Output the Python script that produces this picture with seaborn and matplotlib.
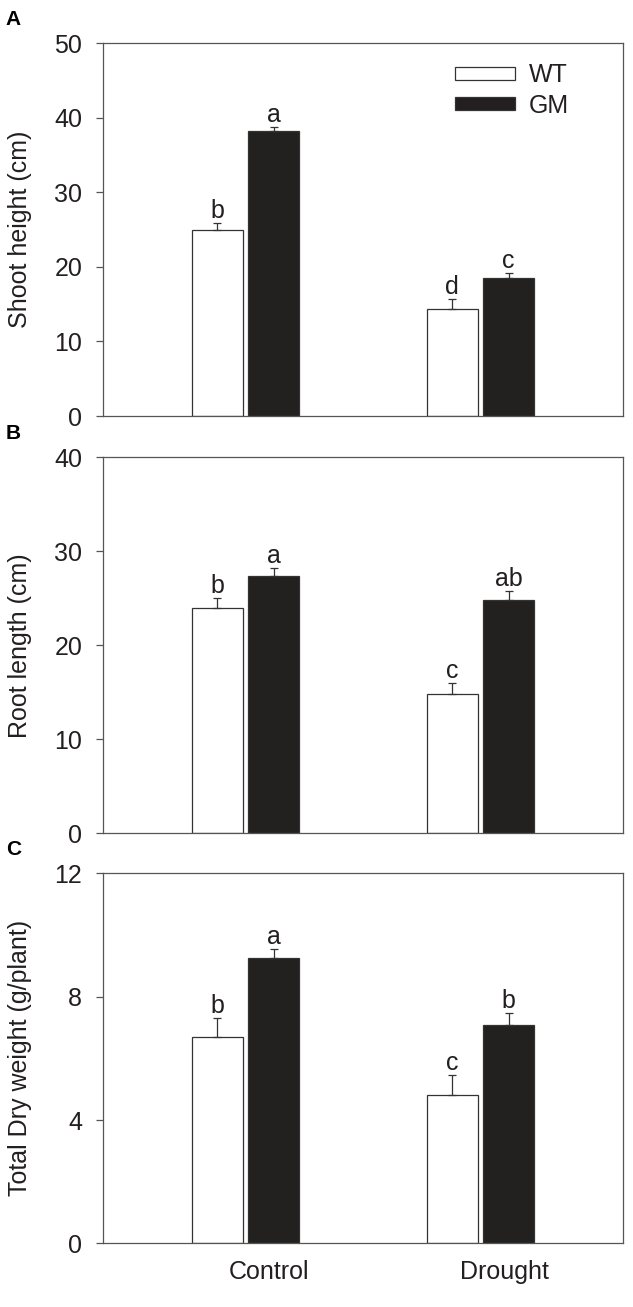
import seaborn as sns
import pandas as pd
import matplotlib.pyplot as plt
from matplotlib.patches import Patch
from matplotlib.transforms import ScaledTranslation

conditions = ["Control", "Drought"]
genotypes = ["WT", "GM"]

# values per genotype: [Control, Drought]
shoot_wt = [24.9, 14.4]
shoot_gm = [38.2, 18.5]
shoot_wt_se = [1.0, 1.3]
shoot_gm_se = [0.6, 0.7]
shoot_letters_wt = ["b", "d"]
shoot_letters_gm = ["a", "c"]

root_wt = [24.0, 14.8]
root_gm = [27.4, 24.8]
root_wt_se = [1.0, 1.2]
root_gm_se = [0.8, 1.0]
root_letters_wt = ["b", "c"]
root_letters_gm = ["a", "ab"]

dry_wt = [6.70, 4.81]
dry_gm = [9.24, 7.08]
dry_wt_se = [0.60, 0.64]
dry_gm_se = [0.31, 0.40]
dry_letters_wt = ["b", "c"]
dry_letters_gm = ["a", "b"]

sns.set_style("white")
plt.rcParams['font.family'] = ['Liberation Sans', 'DejaVu Sans']

fig = plt.figure(figsize=(6.33, 13.07), dpi=100)
ax_a = fig.add_axes([0.1627, 0.6817, 0.8215, 0.2854])
ax_b = fig.add_axes([0.1627, 0.3624, 0.8215, 0.2877])
ax_c = fig.add_axes([0.1627, 0.0487, 0.8215, 0.2831])

colors = {"WT": "white", "GM": "#231f20"}
spine_col = "#555555"
text_col = "#231f20"
FS = 18


def panel(ax, wt, gm, wt_se, gm_se, let_wt, let_gm, ymax, ticks, ylabel, tag):
    df = pd.DataFrame({
        "condition": conditions * 2,
        "genotype": ["WT"] * 2 + ["GM"] * 2,
        "value": wt + gm,
    })
    sns.barplot(data=df, x="condition", y="value", hue="genotype",
                order=conditions, hue_order=genotypes, palette=colors,
                errorbar=None, width=0.48, gap=0.1, edgecolor="#333333",
                linewidth=0.9, legend=False, ax=ax)
    ses = {"WT": wt_se, "GM": gm_se}
    lets = {"WT": let_wt, "GM": let_gm}
    vals = {"WT": wt, "GM": gm}
    for g, cont in zip(genotypes, ax.containers):
        for i, bar in enumerate(cont):
            xc = bar.get_x() + bar.get_width() / 2
            v = vals[g][i]
            e = ses[g][i]
            ax.errorbar(xc, v, yerr=[[0], [e]], fmt="none", ecolor="#333333",
                        elinewidth=0.9, capsize=3, capthick=0.9)
            ax.text(xc, v + e, lets[g][i], ha="center",
                    va="bottom", fontsize=FS, color=text_col)
    ax.set_xlim(-0.606, 1.606)
    ax.set_ylim(0, ymax)
    ax.set_yticks(ticks)
    ax.set_ylabel(ylabel, fontsize=FS, color=text_col, labelpad=16)
    ax.set_xlabel("")
    for s in ax.spines.values():
        s.set_color(spine_col)
        s.set_linewidth(0.9)
    ax.tick_params(axis="y", direction="out", length=5, width=0.9, pad=10,
                   color=spine_col, labelsize=FS, labelcolor=text_col, left=True)
    ax.tick_params(axis="x", length=0, pad=12, labelsize=FS, labelcolor=text_col)
    ax.text(-0.187, 1.064, tag, transform=ax.transAxes, fontsize=15,
            fontweight="bold", ha="left", va="center", color="black")


panel(ax_a, shoot_wt, shoot_gm, shoot_wt_se, shoot_gm_se,
      shoot_letters_wt, shoot_letters_gm, 50, [0, 10, 20, 30, 40, 50],
      "Shoot height (cm)", "A")
panel(ax_b, root_wt, root_gm, root_wt_se, root_gm_se,
      root_letters_wt, root_letters_gm, 40, [0, 10, 20, 30, 40],
      "Root length (cm)", "B")
panel(ax_c, dry_wt, dry_gm, dry_wt_se, dry_gm_se,
      dry_letters_wt, dry_letters_gm, 12, [0, 4, 8, 12],
      "Total Dry weight (g/plant)", "C")

ax_a.set_xticklabels([])
ax_b.set_xticklabels([])
# category labels sit a little right of the bar groups, as in the original
shift = ScaledTranslation(0.24, 0, fig.dpi_scale_trans)
for lab in ax_c.get_xticklabels():
    lab.set_transform(lab.get_transform() + shift)

handles = [Patch(facecolor=colors[g], edgecolor="#333333", linewidth=0.9)
           for g in genotypes]
ax_a.legend(handles, genotypes, frameon=False, fontsize=FS,
            loc="upper left", bbox_to_anchor=(0.633, 1.006),
            handlelength=2.4, handleheight=0.4, labelspacing=0.25,
            handletextpad=0.56, labelcolor=text_col)

fig.savefig("out.png", dpi=100)
